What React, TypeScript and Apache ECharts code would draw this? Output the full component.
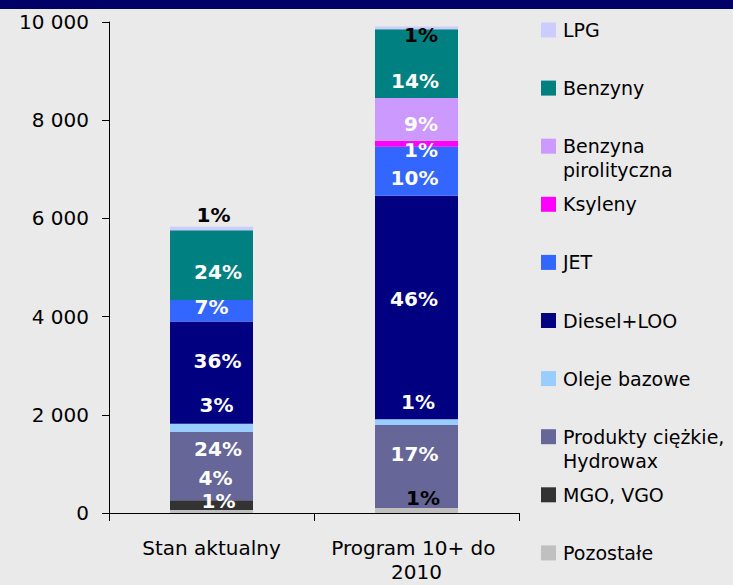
import React, { useEffect, useRef } from "react";
import * as echarts from "echarts";

// ---- data ----
const categories = ["Stan aktualny", "Program 10+ do 2010"];
const yMin = 0;
const yMax = 10000;
const yInterval = 2000;

// series, stacked bottom -> top
const pozostale = [60, 100];
const mgoVgo = [200, 0];
const produktyCiezkie = [1390, 1690];
const olejeBazowe = [170, 120];
const dieselLoo = [2080, 4550];
const jet = [440, 1000];
const ksyleny = [0, 120];
const benzynaPirolityczna = [0, 870];
const benzyny = [1420, 1400];
const lpg = [70, 60];

// percentage labels shown on the bars
const pozostalePct = ["1%", "1%"];
const mgoVgoPct = ["4%", ""];
const produktyCiezkiePct = ["24%", "17%"];
const olejeBazowePct = ["3%", "1%"];
const dieselLooPct = ["36%", "46%"];
const jetPct = ["7%", "10%"];
const ksylenyPct = ["", "1%"];
const benzynaPirolitycznaPct = ["", "9%"];
const benzynyPct = ["24%", "14%"];
const lpgPct = ["1%", "1%"];

// legend labels (top -> bottom, as in the reference)
const legendLabels = [
  "LPG",
  "Benzyny",
  "Benzyna\npirolityczna",
  "Ksyleny",
  "JET",
  "Diesel+LOO",
  "Oleje bazowe",
  "Produkty ciężkie,\nHydrowax",
  "MGO, VGO",
  "Pozostałe",
];

// ---- styling ----
const FONT = "DejaVu Sans";
const colorsByName: Record<string, string> = {
  "LPG": "#CCCCFF",
  "Benzyny": "#008080",
  "Benzyna pirolityczna": "#CC99FF",
  "Ksyleny": "#FF00FF",
  "JET": "#3366FF",
  "Diesel+LOO": "#000080",
  "Oleje bazowe": "#99CCFF",
  "Produkty ciężkie, Hydrowax": "#666699",
  "MGO, VGO": "#333333",
  "Pozostałe": "#C0C0C0",
};

// label nudges [dx, dy] per category, and label colours
const labelNudge: Record<string, number[][]> = {
  "Pozostałe": [[7, -10.5], [6.5, -13]],
  "MGO, VGO": [[4, -27], [0, 0]],
  "Produkty ciężkie, Hydrowax": [[6.5, -17.5], [-2, -12.5]],
  "Oleje bazowe": [[5, -23], [1.5, -20]],
  "Diesel+LOO": [[6, -12], [-2.5, -8.5]],
  "JET": [[0, -4], [-2, 7]],
  "Ksyleny": [[0, 0], [4.5, 6]],
  "Benzyna pirolityczna": [[0, 0], [4.5, 5]],
  "Benzyny": [[6.5, 7], [-1.5, 17]],
  "LPG": [[2, -13.5], [4.5, 7]],
};
const labelColor: Record<string, string[]> = {
  "LPG": ["#000000", "#000000"],
  "Pozostałe": ["#FFFFFF", "#000000"],
};

const stackSeries: { name: string; values: number[]; pct: string[] }[] = [
  { name: "Pozostałe", values: pozostale, pct: pozostalePct },
  { name: "MGO, VGO", values: mgoVgo, pct: mgoVgoPct },
  { name: "Produkty ciężkie, Hydrowax", values: produktyCiezkie, pct: produktyCiezkiePct },
  { name: "Oleje bazowe", values: olejeBazowe, pct: olejeBazowePct },
  { name: "Diesel+LOO", values: dieselLoo, pct: dieselLooPct },
  { name: "JET", values: jet, pct: jetPct },
  { name: "Ksyleny", values: ksyleny, pct: ksylenyPct },
  { name: "Benzyna pirolityczna", values: benzynaPirolityczna, pct: benzynaPirolitycznaPct },
  { name: "Benzyny", values: benzyny, pct: benzynyPct },
  { name: "LPG", values: lpg, pct: lpgPct },
];

function fmtThousands(v: number): string {
  return String(v).replace(/\B(?=(\d{3})+(?!\d))/g, " ");
}

export default function App() {
  const ref = useRef<HTMLDivElement>(null);

  useEffect(() => {
    if (!ref.current) return;
    const chart = echarts.init(ref.current, undefined, { renderer: "svg" });

    const series = stackSeries.map((s) => ({
      name: s.name,
      type: "bar",
      stack: "total",
      barWidth: 83,
      itemStyle: { color: colorsByName[s.name] },
      data: s.values.map((v, i) => ({
        value: v,
        label: {
          show: s.pct[i] !== "",
          position: "inside",
          formatter: s.pct[i],
          offset: (labelNudge[s.name] || [[0, 0], [0, 0]])[i],
          color: labelColor[s.name] ? labelColor[s.name][i] : "#FFFFFF",
          fontFamily: FONT,
          fontWeight: "bold",
          fontSize: 20,
          lineHeight: 17,
        },
      })),
    }));

    const legendTop = 30;
    const legendStep = 58.1;
    const legendGraphics: any[] = [];
    legendLabels.forEach((lbl, i) => {
      const name = lbl.replace("\n", " ");
      const cy = legendTop + i * legendStep;
      legendGraphics.push({
        type: "rect",
        shape: { x: 541, y: cy - 7.5, width: 15, height: 15 },
        style: { fill: colorsByName[name] },
        silent: true,
      });
      legendGraphics.push({
        type: "text",
        x: 563,
        y: cy - 12,
        style: {
          text: lbl,
          fill: "#000000",
          font: `19px "${FONT}"`,
          lineHeight: 24,
          verticalAlign: "top",
          align: "left",
        },
        silent: true,
      });
    });

    const option: any = {
      animation: false,
      backgroundColor: "#EAEAEA",
      grid: {
        left: 109,
        right: 214,
        top: 22,
        bottom: 72,
        containLabel: false,
        outerBoundsMode: "none",
      },
      xAxis: {
        type: "category",
        data: categories,
        axisLine: { show: true, lineStyle: { color: "#000000", width: 1 } },
        axisTick: { show: true, length: 8, lineStyle: { color: "#000000" } },
        axisLabel: {
          interval: 0,
          color: "#000000",
          fontFamily: FONT,
          fontSize: 20,
          lineHeight: 24,
          margin: 23,
          width: 190,
          overflow: "break",
        },
      },
      yAxis: {
        type: "value",
        min: yMin,
        max: yMax,
        interval: yInterval,
        axisLine: { show: true, lineStyle: { color: "#000000", width: 1 } },
        axisTick: { show: true, length: 7, inside: false, lineStyle: { color: "#000000" } },
        splitLine: { show: false },
        axisLabel: {
          color: "#000000",
          fontFamily: FONT,
          fontSize: 20,
          margin: 20,
          formatter: (v: number) => fmtThousands(v),
        },
      },
      series,
      graphic: [
        {
          type: "rect",
          shape: { x: 0, y: 0, width: 733, height: 9 },
          style: { fill: "#000066" },
          silent: true,
        },
        ...legendGraphics,
      ],
    };

    chart.setOption(option);
    return () => chart.dispose();
  }, []);

  return (
    <div
      ref={ref}
      style={{ position: "fixed", left: 0, top: 0, width: 733, height: 585 }}
    />
  );
}
